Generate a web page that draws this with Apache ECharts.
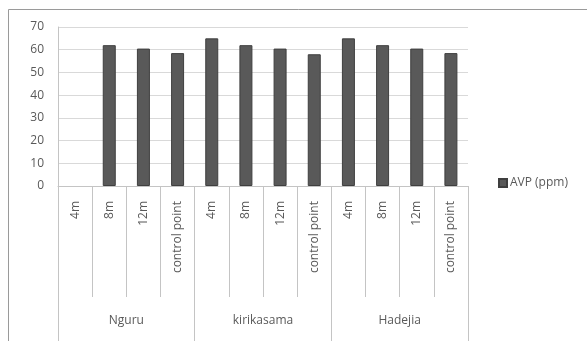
<!DOCTYPE html>
<html>
<head>
<meta charset="utf-8">
<script src="https://cdn.jsdelivr.net/npm/echarts@6/dist/echarts.min.js"></script>
<style>
  html, body { margin: 0; padding: 0; background: #fff; }
  #chart { width: 587px; height: 341px; }
</style>
</head>
<body>
<div id="chart"></div>
<script>
var sites = ['4m', '8m', '12m', 'control point', '4m', '8m', '12m', 'control point', '4m', '8m', '12m', 'control point'];
var towns = ['Nguru', 'kirikasama', 'Hadejia'];
// Nguru 4m has no bar in the source
var avp = [null, 62, 60.5, 58.5, 65, 62, 60.5, 58, 65, 62, 60.5, 58.5];
var yTicks = [0, 10, 20, 30, 40, 50, 60, 70];

var txt = '#595959';
var font = 'Open Sans';
var lineCol = '#c4c4c4';

var app = echarts.init(document.getElementById('chart'));

var option = {
    animation: false,
    textStyle: { fontFamily: font },
    graphic: [{
        type: 'rect',
        shape: { x: 8.5, y: 9.5, width: 620, height: 360 },
        style: { fill: 'none', stroke: '#9a9a9a', lineWidth: 1 },
        silent: true
    }],
    legend: {
        left: 493,
        top: 172,
        icon: 'rect',
        itemWidth: 8,
        itemHeight: 8,
        itemGap: 4,
        textStyle: { color: txt, fontSize: 12, fontFamily: font, padding: [0, 0, 0, -2] },
        data: ['AVP (ppm)']
    },
    grid: { left: 58, right: 119, top: 27, bottom: 155 },
    xAxis: [{
        type: 'category',
        data: sites,
        axisLine: { show: true, lineStyle: { color: lineCol } },
        axisTick: { show: true, length: 111, lineStyle: { color: lineCol } },
        axisLabel: { rotate: 90, margin: 15, color: txt, fontSize: 12, interval: 0 }
    }, {
        type: 'category',
        data: towns,
        position: 'bottom',
        axisLine: { show: false },
        axisTick: { show: true, length: 160, lineStyle: { color: lineCol } },
        axisLabel: { margin: 129, color: txt, fontSize: 12, interval: 0 }
    }],
    yAxis: {
        type: 'value',
        min: yTicks[0],
        max: yTicks[yTicks.length - 1],
        interval: 10,
        axisLine: { show: true, lineStyle: { color: lineCol } },
        axisTick: { show: false },
        axisLabel: { margin: 14, color: txt, fontSize: 12 },
        splitLine: { lineStyle: { color: '#d9d9d9' } }
    },
    series: [{
        name: 'AVP (ppm)',
        type: 'bar',
        xAxisIndex: 0,
        barWidth: 13,
        data: avp,
        itemStyle: { color: '#595959', borderColor: '#3f3f3f', borderWidth: 1 }
    }]
};

app.setOption(option);
</script>
</body>
</html>
